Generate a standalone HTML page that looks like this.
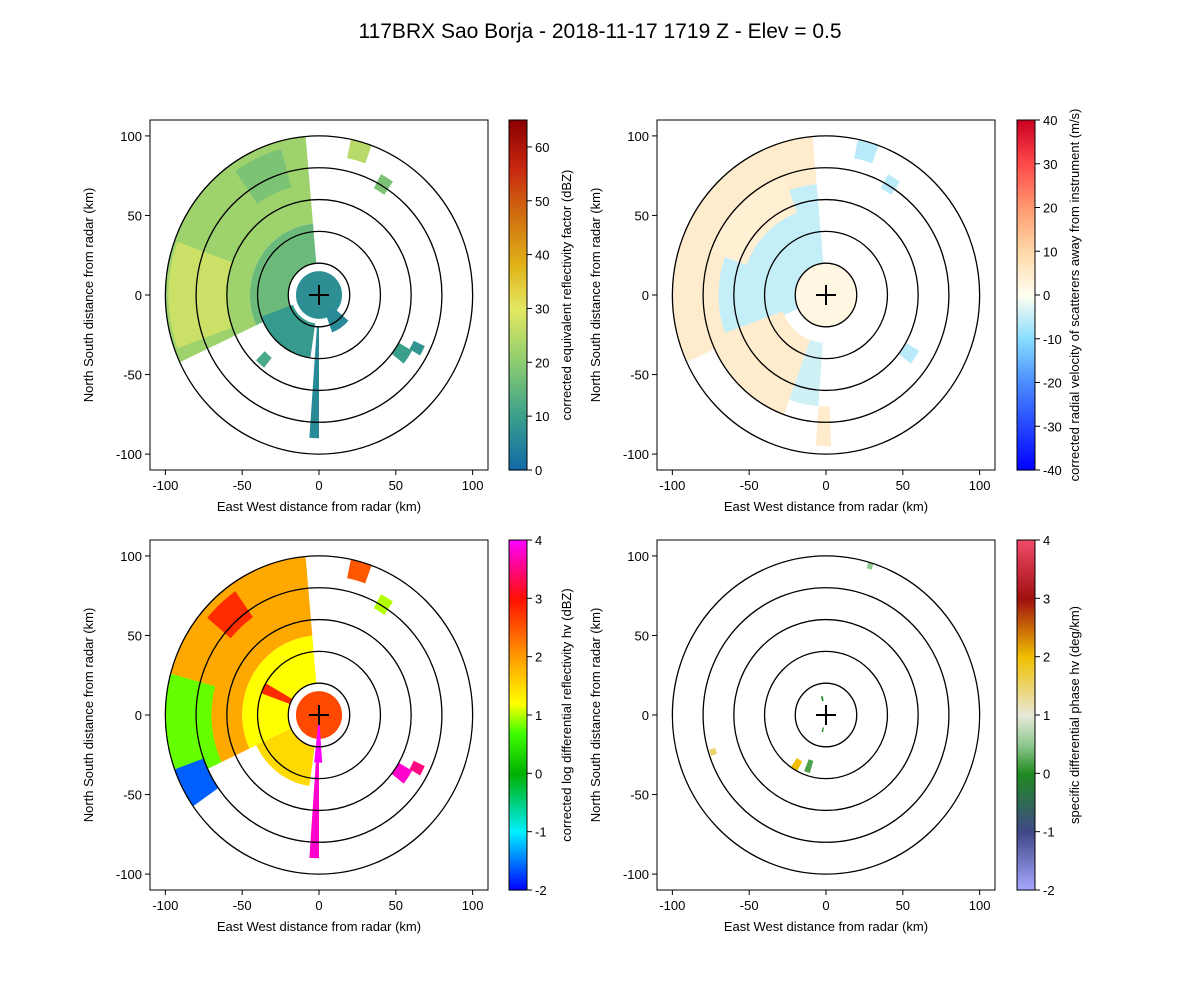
<!DOCTYPE html>
<html><head><meta charset="utf-8">
<style>
body{margin:0;background:#fff;}
svg{display:block;font-family:"Liberation Sans","DejaVu Sans",sans-serif;}
</style></head>
<body>
<svg id="fig" width="1200" height="1000" viewBox="0 0 1200 1000" xmlns="http://www.w3.org/2000/svg">
<rect width="1200" height="1000" fill="#fff"/>
<text x="600" y="38" font-size="21" text-anchor="middle">117BRX Sao Borja - 2018-11-17 1719 Z -  Elev = 0.5</text>
</svg>
<script>
// ---- data (km / degrees math-angle / field values) ----
const ringRadii = [20, 40, 60, 80, 100];
const axisTicks = [-100, -50, 0, 50, 100];
// patches: [angleStart, angleEnd, rangeMin, rangeMax, value]
const reflPatches = [
  [0,360,0,15,7],[95,205,20,45,16],[95,205,45,100,22],[160,200,60,98,27],
  [105,125,70,95,18],[200,262,18,40,9],[266,270,20,90,6],[290,320,12,25,6],
  [70,78,88,100,25],[56,62,76,86,18],[-38,-30,60,70,10],[-30,-25,68,76,8],[225,232,50,58,12]
];
const velPatches = [
  [0,360,0,20,2],[95,205,20,70,-5],[95,205,70,100,5],[110,160,55,80,4],
  [200,250,30,80,5],[250,266,30,70,-4],[266,272,70,95,5],[70,78,88,100,-6],[56,62,76,86,-6],[-38,-30,60,70,-6]
];
const zdrPatches = [
  [0,360,0,15,2.6],[95,205,20,50,1.2],[95,205,50,100,1.9],[125,140,75,95,2.8],
  [165,205,70,100,0.8],[200,215,80,100,-1.6],[205,262,20,45,1.5],[264,274,0,30,4],
  [266,270,30,90,3.8],[70,78,88,100,2.5],[56,62,76,86,1],[-38,-30,60,70,3.8],[-30,-25,68,76,3.5],[150,160,20,40,2.8]
];
const kdpPatches = [
  [196,199,75,79,1.5],[235,242,33,40,2],[248,254,30,38,0.2],[100,106,9,12,0],[-105,-100,8,11,0],[72,74,96,100,0.5]
];
const reflTicks = [0,10,20,30,40,50,60];
const velTicks = [-40,-30,-20,-10,0,10,20,30,40];
const zdrTicks = [-2,-1,0,1,2,3,4];
const kdpTicks = [-2,-1,0,1,2,3,4];

const cmaps = {
  refl:[[0,'#1068a8'],[10,'#3aa08c'],[20,'#8ccc70'],[30,'#e4e862'],[38,'#e0b418'],[48,'#d06a10'],[56,'#c82810'],[65,'#8c0000']],
  vel:[[-40,'#0000ff'],[-20,'#4a8cff'],[-10,'#88dcff'],[0,'#fffff0'],[10,'#ffd8a8'],[20,'#ff9a70'],[30,'#ff4a4a'],[40,'#cc0022']],
  zdr:[[-2,'#0000ff'],[-1,'#00f0ff'],[0,'#00b000'],[0.7,'#40ff00'],[1.2,'#ffff00'],[2,'#ff9c00'],[3,'#ff1000'],[4,'#ff00ff']],
  kdp:[[-2,'#a8a8ff'],[-1,'#404888'],[0,'#208a20'],[0.5,'#90c890'],[1,'#e8e8d8'],[2,'#f0c000'],[3,'#a01010'],[4,'#f04a68']]
};
function hex(c){return [1,3,5].map(i=>parseInt(c.substr(i,2),16));}
function cmap(name,v){
  const s=cmaps[name];
  if(v<=s[0][0])return s[0][1];
  for(let i=1;i<s.length;i++){
    if(v<=s[i][0]){
      const t=(v-s[i-1][0])/(s[i][0]-s[i-1][0]);
      const a=hex(s[i-1][1]),b=hex(s[i][1]);
      return 'rgb('+a.map((x,k)=>Math.round(x+(b[k]-x)*t)).join(',')+')';
    }
  }
  return s[s.length-1][1];
}
const NS='http://www.w3.org/2000/svg';
const fig=document.getElementById('fig');
function el(tag,attrs,parent){
  const e=document.createElementNS(NS,tag);
  for(const k in attrs)e.setAttribute(k,attrs[k]);
  (parent||fig).appendChild(e);return e;
}
const panels=[
  {x0:150,y0:120,cbx:509,patches:reflPatches,cm:'refl',ticks:reflTicks,vmin:0,vmax:65,label:'corrected equivalent reflectivity factor (dBZ)',name:'reflectivity'},
  {x0:657,y0:120,cbx:1017,patches:velPatches,cm:'vel',ticks:velTicks,vmin:-40,vmax:40,label:'corrected radial velocity of scatterers away from instrument (m/s)',name:'velocity'},
  {x0:150,y0:540,cbx:509,patches:zdrPatches,cm:'zdr',ticks:zdrTicks,vmin:-2,vmax:4,label:'corrected log differential reflectivity hv (dBZ)',name:'zdr'},
  {x0:657,y0:540,cbx:1017,patches:kdpPatches,cm:'kdp',ticks:kdpTicks,vmin:-2,vmax:4,label:'specific differential phase hv (deg/km)',name:'kdp'}
];
const W=338,H=350;
panels.forEach((p,pi)=>{
  const g=el('g',{});
  
  
  const px=x=>p.x0+(x+110)/220*W;
  const py=y=>p.y0+(110-y)/220*H;
  const cid='clip'+pi;
  const cp=el('clipPath',{id:cid},g);
  el('rect',{x:p.x0,y:p.y0,width:W,height:H},cp);
  const dg=el('g',{'clip-path':'url(#'+cid+')'},g);
  p.patches.forEach(pt=>{
    const [a0,a1,r0,r1,v]=pt;
    let d='';
    const n=Math.max(2,Math.ceil((a1-a0)/2));
    for(let i=0;i<=n;i++){const a=(a0+(a1-a0)*i/n)*Math.PI/180;d+=(i?'L':'M')+px(r1*Math.cos(a)).toFixed(1)+','+py(r1*Math.sin(a)).toFixed(1);}
    for(let i=n;i>=0;i--){const a=(a0+(a1-a0)*i/n)*Math.PI/180;d+='L'+px(r0*Math.cos(a)).toFixed(1)+','+py(r0*Math.sin(a)).toFixed(1);}
    const e=el('path',{d:d+'Z',fill:cmap(p.cm,v)},dg);
    
    
  });
  ringRadii.forEach(r=>{
    const e=el('ellipse',{cx:px(0),cy:py(0),rx:px(r)-px(0),ry:py(0)-py(r),fill:'none',stroke:'#000','stroke-width':1.3},dg);
    
    
  });
  const cx=px(0),cy=py(0);
  const cr=el('path',{d:`M${cx-10},${cy}H${cx+10}M${cx},${cy-10}V${cy+10}`,stroke:'#000','stroke-width':2},g);
  
  
  el('rect',{x:p.x0,y:p.y0,width:W,height:H,fill:'none',stroke:'#000','stroke-width':1},g);
  axisTicks.forEach(t=>{
    el('line',{x1:px(t),x2:px(t),y1:p.y0+H,y2:p.y0+H+5,stroke:'#000'},g);
    const tx=el('text',{x:px(t),y:p.y0+H+20,'font-size':13,'text-anchor':'middle'},g);tx.textContent=t;
    
    
    el('line',{x1:p.x0-5,x2:p.x0,y1:py(t),y2:py(t),stroke:'#000'},g);
    const ty=el('text',{x:p.x0-8,y:py(t)+5,'font-size':13,'text-anchor':'end'},g);ty.textContent=t;
    
    
  });
  const xl=el('text',{x:p.x0+W/2,y:p.y0+H+41,'font-size':13,'text-anchor':'middle'},g);
  xl.textContent='East West distance from radar (km)';
  
  
  const yx=p.x0-57,yy=p.y0+H/2;
  const yl=el('text',{x:yx,y:yy,'font-size':13,'text-anchor':'middle',transform:`rotate(-90 ${yx} ${yy})`},g);
  yl.textContent='North South distance from radar (km)';
  
  
  const cb=el('g',{},g);
  
  
  const cw=18,steps=140;
  for(let i=0;i<steps;i++){
    const v=p.vmin+(p.vmax-p.vmin)*(i+0.5)/steps;
    el('rect',{x:p.cbx,y:p.y0+H-(i+1)*H/steps,width:cw,height:H/steps+0.6,fill:cmap(p.cm,v)},cb);
  }
  el('rect',{x:p.cbx,y:p.y0,width:cw,height:H,fill:'none',stroke:'#000'},cb);
  const cy2=v=>p.y0+H-(v-p.vmin)/(p.vmax-p.vmin)*H;
  p.ticks.forEach(t=>{
    el('line',{x1:p.cbx+cw,x2:p.cbx+cw+5,y1:cy2(t),y2:cy2(t),stroke:'#000'},cb);
    const tt=el('text',{x:p.cbx+cw+8,y:cy2(t)+5,'font-size':13},cb);tt.textContent=t;
    
    
  });
  const lx=p.cbx+62,ly=p.y0+H/2;
  const cl=el('text',{x:lx,y:ly,'font-size':13,'text-anchor':'middle',transform:`rotate(-90 ${lx} ${ly})`},cb);
  cl.textContent=p.label;
  
  
});
</script>
</body></html>
